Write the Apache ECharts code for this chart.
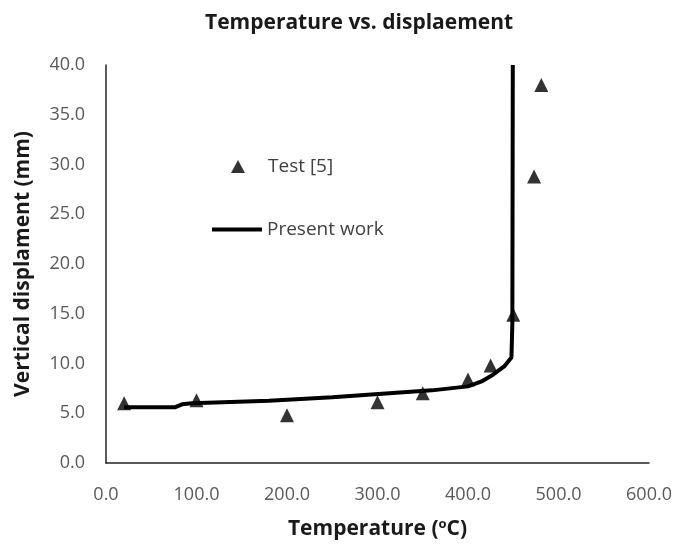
<!DOCTYPE html>
<html>
<head>
<meta charset="utf-8">
<script src="https://cdn.jsdelivr.net/npm/echarts@6/dist/echarts.min.js"></script>
<style>html,body{margin:0;padding:0;background:#fff}#c{width:678px;height:546px}</style>
</head>
<body>
<div id="c"></div>
<script>
// Test data (triangles)
var testX = [20, 100, 200, 300, 350, 400, 425, 450, 473, 481];
var testY = [6.0, 6.3, 4.8, 6.1, 7.0, 8.4, 9.8, 14.9, 28.8, 38.0];
// Present work (line)
var workX = [20, 76, 84, 95, 180, 250, 313, 360, 400, 415, 428, 440, 448, 449, 449.5];
var workY = [5.6, 5.6, 5.9, 6.0, 6.25, 6.6, 7.0, 7.3, 7.7, 8.2, 8.9, 9.7, 10.6, 14, 40];
var xTicks = [0, 100, 200, 300, 400, 500, 600];
var yTicks = [0, 5, 10, 15, 20, 25, 30, 35, 40];

function pairs(xs, ys) { return xs.map(function (x, i) { return [x, ys[i]]; }); }

var font = '"Open Sans", "Liberation Sans", sans-serif';
var chart = echarts.init(document.getElementById('c'), null, {renderer: 'canvas'});
chart.setOption({
  animation: false,
  backgroundColor: '#fff',
  title: {
    text: 'Temperature vs. displaement',
    left: 200, top: 8,
    textStyle: {fontFamily: font, fontSize: 21, fontWeight: 'bold', color: '#1a1a1a'}
  },
  legend: [
    {
      data: [{name: 'Test [5]', icon: 'triangle'}],
      left: 231, top: 157, padding: 0, itemWidth: 14, itemHeight: 13,
      textStyle: {fontFamily: font, fontSize: 19, color: '#404040', padding: [0, 0, 0, 18]}
    },
    {
      data: [{name: 'Present work', icon: 'rect'}],
      left: 212, top: 220, padding: 0, itemWidth: 50, itemHeight: 4,
      textStyle: {fontFamily: font, fontSize: 19, color: '#404040'}
    }
  ],
  grid: {left: 106, right: 29, top: 65, bottom: 83, containLabel: false},
  xAxis: {
    type: 'value', min: 0, max: 600, interval: 100,
    name: 'Temperature ({sup|o}C)',
    nameLocation: 'middle', nameGap: 55,
    nameTextStyle: {
      fontFamily: font, fontSize: 21, fontWeight: 'bold', color: '#1a1a1a',
      rich: {sup: {fontFamily: font, fontSize: 13, fontWeight: 'bold', color: '#1a1a1a', verticalAlign: 'top', padding: [0, 0, 10, 0]}}
    },
    axisLine: {show: true, lineStyle: {color: '#222', width: 1.5}},
    axisTick: {show: false},
    splitLine: {show: false},
    axisLabel: {
      margin: 23, fontFamily: font, fontSize: 18, color: '#595959',
      formatter: function (v) { return xTicks.indexOf(v) >= 0 ? v.toFixed(1) : ''; }
    }
  },
  yAxis: {
    type: 'value', min: 0, max: 40, interval: 5,
    name: 'Vertical displament (mm)',
    nameLocation: 'middle', nameGap: 72,
    nameTextStyle: {fontFamily: font, fontSize: 21, fontWeight: 'bold', color: '#1a1a1a'},
    axisLine: {show: true, lineStyle: {color: '#222', width: 1.5}},
    axisTick: {show: false},
    splitLine: {show: false},
    axisLabel: {
      margin: 21, fontFamily: font, fontSize: 18, color: '#595959',
      formatter: function (v) { return yTicks.indexOf(v) >= 0 ? v.toFixed(1) : ''; }
    }
  },
  series: [
    {
      name: 'Test [5]', type: 'scatter', symbol: 'triangle', symbolSize: 14,
      itemStyle: {color: '#000'},
      data: pairs(testX, testY), z: 3
    },
    {
      name: 'Present work', type: 'line', showSymbol: false, symbol: 'none',
      lineStyle: {color: '#000', width: 4},
      itemStyle: {color: '#000'},
      data: pairs(workX, workY), z: 2
    }
  ]
});
</script>
</body>
</html>
